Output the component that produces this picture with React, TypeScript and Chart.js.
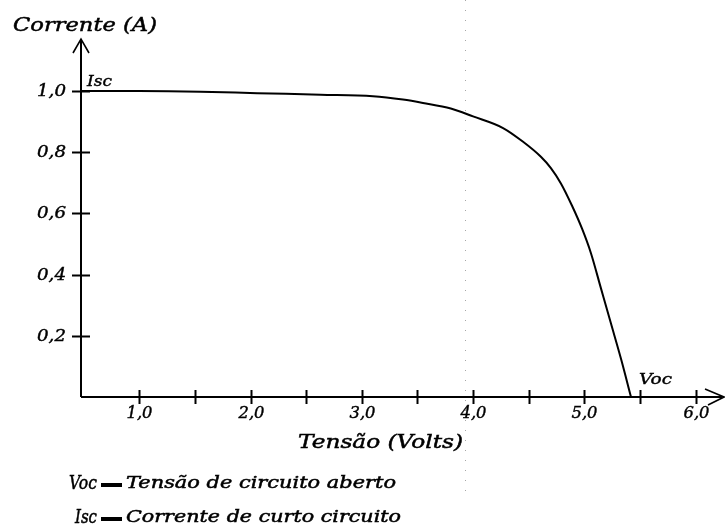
import React, { useEffect, useRef } from "react";
import { Chart, registerables } from "chart.js";

Chart.register(...registerables);

// I-V curve (Tensão in V, Corrente in A)
const voltage = [4.76, 10, 15.5, 20.6, 26.3, 31.0, 33.7, 35.5, 38.0, 40.0, 42.7, 44.5, 46.1, 47.0, 47.9, 48.9, 49.8, 50.6, 51.5, 52.4, 53.3, 54.2];
const current = [1.0, 1.0, 0.998, 0.993, 0.988, 0.983, 0.972, 0.961, 0.943, 0.917, 0.879, 0.834, 0.785, 0.748, 0.698, 0.625, 0.55, 0.47, 0.355, 0.24, 0.125, 0.0];

const xTickValues = [10, 15, 20, 25, 30, 35, 40, 45, 50, 55, 60];
const xTickLabels = ["1,0", "", "2,0", "", "3,0", "", "4,0", "", "5,0", "", "6,0"];
const yTickValues = [0.2, 0.4, 0.6, 0.8, 1.0];
const yTickLabels = ["0,2", "0,4", "0,6", "0,8", "1,0"];

const vocValue = 54.2;
const iscValue = 1.0;

const xTitle = "Tensão (Volts)";
const yTitle = "Corrente (A)";
const legendLines = [
  ["Voc", "Tensão de circuito aberto"],
  ["Isc", "Corrente de curto circuito"],
];

const FONT = '"DejaVu Serif", "Liberation Serif", serif';

function fitText(ctx: CanvasRenderingContext2D, text: string, x: number, y: number, width: number, align: "left" | "center" | "right", bold = 0) {
  const w = ctx.measureText(text).width;
  const s = width / w;
  ctx.save();
  ctx.translate(x, y);
  ctx.scale(s, 1);
  ctx.textAlign = align;
  ctx.fillText(text, 0, 0);
  if (bold > 0) {
    ctx.lineWidth = bold;
    ctx.strokeText(text, 0, 0);
  }
  ctx.restore();
}

const drawPlugin = {
  id: "ivDecor",
  beforeDatasetsDraw(chart: any) {
    const { ctx } = chart;
    const x = chart.scales.x;
    const y = chart.scales.y;
    const left = x.getPixelForValue(x.min);
    const right = x.getPixelForValue(x.max);
    const bottom = y.getPixelForValue(0);
    const top = y.getPixelForValue(y.max);

    ctx.save();
    // faint scan artefact dotted line
    ctx.strokeStyle = "rgba(0,0,0,0.35)";
    ctx.lineWidth = 1;
    ctx.setLineDash([1, 9]);
    ctx.beginPath();
    ctx.moveTo(465.5, 0);
    ctx.lineTo(465.5, 500);
    ctx.stroke();
    ctx.setLineDash([]);

    ctx.strokeStyle = "#000";
    ctx.lineWidth = 2;
    // axes
    ctx.beginPath();
    ctx.moveTo(left, bottom);
    ctx.lineTo(left, top);
    ctx.moveTo(left, bottom);
    ctx.lineTo(right + 2, bottom);
    ctx.stroke();
    // y arrow
    ctx.lineWidth = 1.6;
    ctx.beginPath();
    ctx.moveTo(left - 8, top + 14);
    ctx.lineTo(left, top);
    ctx.lineTo(left + 8, top + 14);
    ctx.stroke();
    // x arrow
    ctx.beginPath();
    ctx.moveTo(right - 15, bottom - 8);
    ctx.lineTo(right + 4, bottom);
    ctx.lineTo(right - 12, bottom + 8);
    ctx.stroke();

    // ticks
    ctx.lineWidth = 2;
    ctx.fillStyle = "#000";
    ctx.font = `italic 16px ${FONT}`;
    ctx.textBaseline = "middle";
    xTickValues.forEach((v, i) => {
      const px = Math.round(x.getPixelForValue(v)) + 0.5;
      ctx.beginPath();
      ctx.moveTo(px, bottom - 7);
      ctx.lineTo(px, bottom + 7);
      ctx.stroke();
      if (xTickLabels[i]) fitText(ctx, xTickLabels[i], px, bottom + 17, 26, "center", 0.4);
    });
    yTickValues.forEach((v, i) => {
      const py = Math.round(y.getPixelForValue(v)) + 0.5;
      ctx.beginPath();
      ctx.moveTo(left - 9, py);
      ctx.lineTo(left + 9, py);
      ctx.stroke();
      fitText(ctx, yTickLabels[i], left - 15, py, 29, "right", 0.4);
    });

    // titles
    ctx.font = `italic 19px ${FONT}`;
    ctx.textBaseline = "alphabetic";
    fitText(ctx, yTitle, 13, 31, 144, "left", 0.5);
    fitText(ctx, xTitle, 298, 448, 165, "left", 0.5);

    // Isc / Voc marks
    ctx.font = `italic 15px ${FONT}`;
    fitText(ctx, "Isc", left + 6, y.getPixelForValue(iscValue) - 5, 25, "left", 0.4);
    fitText(ctx, "Voc", x.getPixelForValue(vocValue) + 8, bottom - 13, 33, "left", 0.4);

    // explanatory lines
    ctx.textBaseline = "middle";
    legendLines.forEach((ln, i) => {
      const cy = 484 + i * 34;
      ctx.font = `italic 18px ${FONT}`;
      fitText(ctx, ln[0], 97, cy, i === 0 ? 28 : 22, "right", 0.5);
      ctx.fillRect(101, cy - 1, 21, 4);
      ctx.font = `italic 17px ${FONT}`;
      fitText(ctx, ln[1], 126, cy, i === 0 ? 270 : 275, "left", 0.5);
    });
    ctx.restore();
  },
};

export default function App() {
  const ref = useRef<HTMLCanvasElement | null>(null);
  useEffect(() => {
    if (!ref.current) return;
    const chart = new Chart(ref.current, {
      type: "line",
      data: {
        datasets: [
          {
            data: voltage.map((v, i) => ({ x: v, y: current[i] })),
            borderColor: "#000",
            borderWidth: 2,
            pointRadius: 0,
            cubicInterpolationMode: "monotone",
            fill: false,
          },
        ],
      },
      options: {
        responsive: false,
        animation: false,
        devicePixelRatio: 1,
        layout: { padding: { left: 81, top: 39, right: 5, bottom: 135 } },
        plugins: { legend: { display: false }, tooltip: { enabled: false } },
        scales: {
          x: { type: "linear", min: 4.76, max: 62.2, display: false },
          y: { type: "linear", min: 0, max: 1.17, display: false },
        },
      },
      plugins: [drawPlugin],
    });
    return () => chart.destroy();
  }, []);
  return (
    <div style={{ position: "fixed", left: 0, top: 0, width: 725, height: 532, background: "#fff" }}>
      <canvas ref={ref} width={725} height={532} style={{ display: "block" }} />
    </div>
  );
}
